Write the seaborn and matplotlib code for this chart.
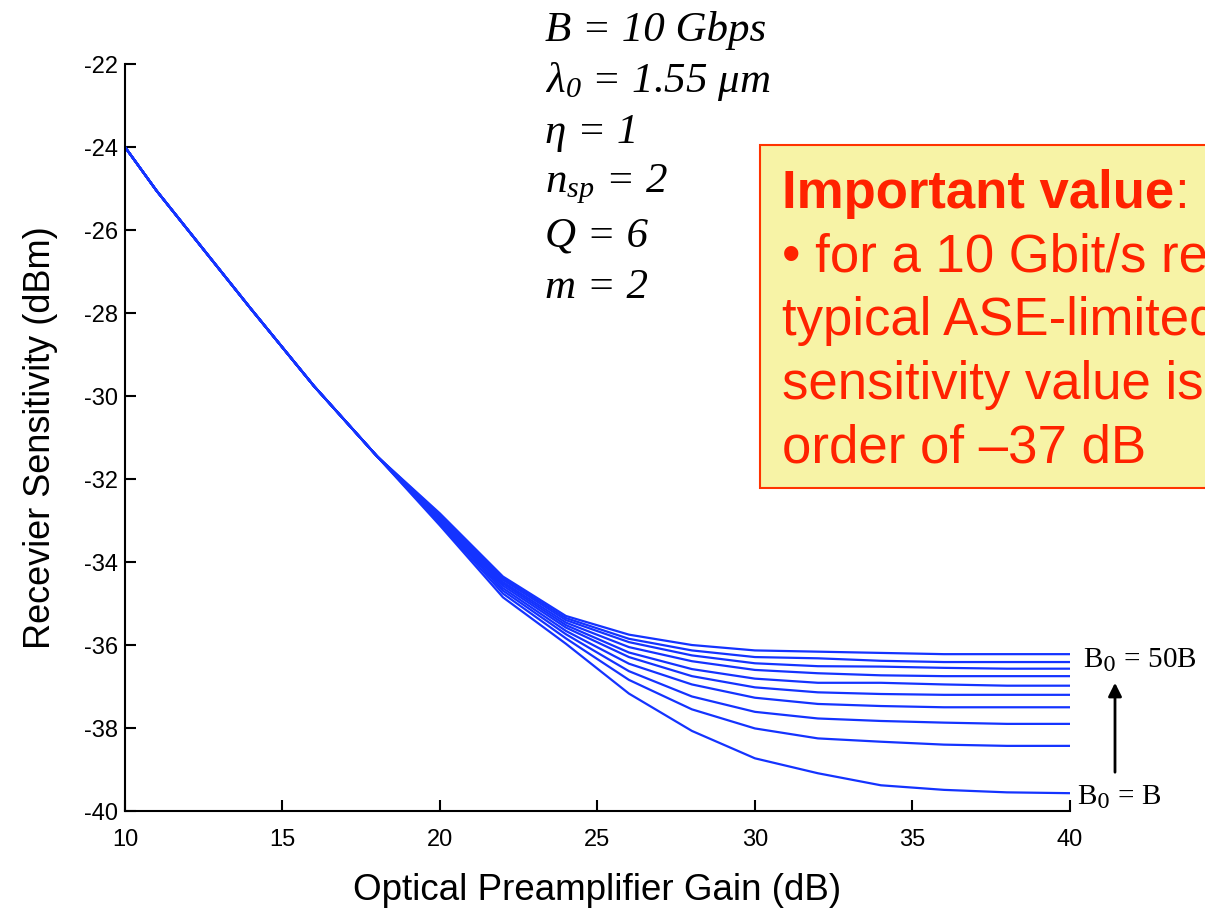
import pandas as pd
import seaborn as sns
import matplotlib.pyplot as plt
from matplotlib.patches import Rectangle
from matplotlib.text import Annotation

# shared part of all curves (gain <= 18 dB)
gain_head = [10, 11, 12, 14, 16, 18]
sens_head = [-24.0, -25.05, -26.0, -27.9, -29.76, -31.45]

# per-curve part, B0 = B (bottom) ... B0 = 50B (top)
gain_tail = [20, 22, 24, 26, 28, 30, 32, 34, 36, 38, 40]
c1 = [-33.12, -34.85, -35.97, -37.17, -38.07, -38.73, -39.09, -39.38, -39.49, -39.55, -39.57]
c2 = [-33.08, -34.76, -35.84, -36.84, -37.55, -38.01, -38.25, -38.33, -38.40, -38.43, -38.43]
c3 = [-33.04, -34.69, -35.74, -36.63, -37.24, -37.61, -37.77, -37.83, -37.87, -37.90, -37.90]
c4 = [-33.01, -34.63, -35.66, -36.45, -36.95, -37.27, -37.42, -37.47, -37.50, -37.50, -37.50]
c5 = [-32.98, -34.57, -35.58, -36.29, -36.75, -37.02, -37.14, -37.18, -37.20, -37.20, -37.20]
c6 = [-32.95, -34.52, -35.52, -36.18, -36.58, -36.81, -36.91, -36.91, -36.95, -36.98, -36.98]
c7 = [-32.92, -34.48, -35.46, -36.05, -36.39, -36.60, -36.68, -36.73, -36.75, -36.75, -36.75]
c8 = [-32.89, -34.43, -35.40, -35.93, -36.25, -36.44, -36.51, -36.52, -36.55, -36.57, -36.57]
c9 = [-32.86, -34.39, -35.35, -35.85, -36.13, -36.29, -36.32, -36.38, -36.41, -36.41, -36.41]
c10 = [-32.83, -34.35, -35.30, -35.75, -36.00, -36.13, -36.16, -36.19, -36.22, -36.22, -36.22]
curves = [c1, c2, c3, c4, c5, c6, c7, c8, c9, c10]

x_ticks = [10, 15, 20, 25, 30, 35, 40]
y_ticks = list(range(-40, -21, 2))

params = ["B = 10 Gbps", "λ$_0$ = 1.55 μm", "η = 1", "n$_{sp}$ = 2", "Q = 6", "m = 2"]
box_lines = ["• for a 10 Gbit/s re", "typical ASE-limited",
             "sensitivity value is", "order of –37 dB"]

rows = []
for i, tail in enumerate(curves):
    for g, s in zip(gain_head + gain_tail, sens_head + tail):
        rows.append({"curve": i, "gain": g, "sens": s})
df = pd.DataFrame(rows)

sns.set_style("ticks")
plt.rcParams["font.family"] = ["Liberation Sans", "DejaVu Sans"]
plt.rcParams["text.color"] = "black"
plt.rcParams["axes.unicode_minus"] = False
plt.rcParams["mathtext.fontset"] = "custom"
plt.rcParams["mathtext.rm"] = "Liberation Serif:italic"
plt.rcParams["mathtext.it"] = "Liberation Serif:italic"

blue = "#1433ff"
fig = plt.figure(figsize=(12.05, 9.16), dpi=100)
ax = fig.add_axes([0.1037, 0.1146, 0.7842, 0.8155])

sns.lineplot(data=df, x="gain", y="sens", hue="curve", palette=[blue] * 10,
             legend=False, estimator=None, sort=False, lw=1.6, ax=ax)

ax.set_xlim(10, 40)
ax.set_ylim(-40, -22)
ax.set_xticks(x_ticks)
ax.set_yticks(y_ticks)
ax.tick_params(direction="in", length=8, width=1.5, labelsize=17, colors="black")
ax.tick_params(axis="x", pad=13)
ax.tick_params(axis="y", pad=5)
for s in ["top", "right"]:
    ax.spines[s].set_visible(False)
for s in ["left", "bottom"]:
    ax.spines[s].set_linewidth(1.5)
    ax.spines[s].set_color("black")
ax.set_xlabel("Optical Preamplifier Gain (dB)", fontsize=26.5, labelpad=16, color="black")
ax.set_ylabel("Recevier Sensitivity (dBm)", fontsize=26, labelpad=19, color="black")

# parameter list
for k, t in enumerate(params):
    fig.text(545 / 1205, 1 - (30 + 51.5 * k) / 916, t, fontsize=31, color="black",
             family="Liberation Serif", style="italic", va="center", ha="left")

# right-hand labels and arrow
fig.text(1083 / 1205, 1 - 660 / 916, "B$_0$ = 50B", fontsize=21, color="black",
         family="Liberation Serif", va="center", ha="left",
         math_fontfamily="dejavuserif")
fig.text(1077 / 1205, 1 - 797 / 916, "B$_0$ = B", fontsize=21, color="black",
         family="Liberation Serif", va="center", ha="left",
         math_fontfamily="dejavuserif")
fig.add_artist(Annotation("", xy=(1115 / 1205, 1 - 680 / 916),
                          xytext=(1115 / 1205, 1 - 775 / 916),
                          xycoords="figure fraction", textcoords="figure fraction",
                          arrowprops=dict(arrowstyle="-|>", color="black", lw=2,
                                          mutation_scale=20)))

# highlighted note box
fig.add_artist(Rectangle((760 / 1205, 1 - 488 / 916), 500 / 1205, 343 / 916,
                         transform=fig.transFigure, facecolor="#f7f3a6",
                         edgecolor="#ff3300", lw=1.5))
red = "#ff2200"
head = fig.text(782 / 1205, 1 - 208 / 916, "Important value", fontsize=38,
                color=red, weight="bold", va="baseline", ha="left")
colon = Annotation(":", xy=(1, 0), xycoords=head, fontsize=38, color=red,
                   va="bottom", ha="left")
colon.set_zorder(4)
fig.add_artist(colon)
for k, t in enumerate(box_lines):
    fig.text(782 / 1205, 1 - (272 + 63.5 * k) / 916, t, fontsize=38,
             color=red, va="baseline", ha="left")

fig.savefig("out.png", dpi=100)
